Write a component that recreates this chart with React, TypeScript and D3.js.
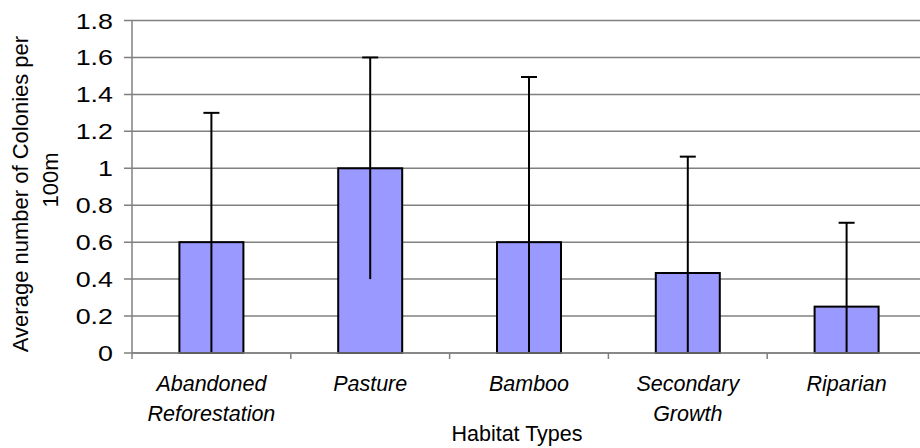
import React from "react";
import * as d3 from "d3";

const categories: string[][] = [
  ["Abandoned", "Reforestation"],
  ["Pasture"],
  ["Bamboo"],
  ["Secondary", "Growth"],
  ["Riparian"],
];
const means = [0.6, 1.0, 0.6, 0.433, 0.251];
const errUpper = [1.3, 1.6, 1.494, 1.063, 0.705];
const errLower = [0, 0.4, 0, 0, 0];
const yTicks = [0, 0.2, 0.4, 0.6, 0.8, 1, 1.2, 1.4, 1.6, 1.8];
const yTitle = ["Average number of Colonies per", "100m"];
const xTitle = "Habitat Types";

const W = 920;
const H = 448;
const left = 132;
const right = 926;
const top = 20.5;
const bottom = 353;

export default function App() {
  const keys = categories.map((c) => c.join(" "));
  const x = d3.scaleBand<string>().domain(keys).range([left, right]).paddingInner(0).paddingOuter(0);
  const y = d3.scaleLinear().domain([0, 1.8]).range([bottom, top]);
  const bw = 64;
  const font = "'Liberation Sans', Arial, sans-serif";
  const boundaries = d3.range(keys.length + 1).map((i) => left + i * x.bandwidth());

  return (
    <svg width={W} height={H} style={{ position: "absolute", left: 0, top: 0, background: "#fff" }}>
      {/* gridlines */}
      {yTicks.map((t) => (
        <line key={"g" + t} x1={left - 8} x2={right} y1={y(t)} y2={y(t)} stroke="#808080" strokeWidth={1.5} />
      ))}
      {/* y axis */}
      <line x1={left} x2={left} y1={top} y2={bottom} stroke="#808080" strokeWidth={1.5} />
      {/* x ticks */}
      {boundaries.map((b, i) => (
        <line key={"xt" + i} x1={b} x2={b} y1={bottom} y2={bottom + 6} stroke="#808080" strokeWidth={1.5} />
      ))}
      {/* y tick labels */}
      {yTicks.map((t) => (
        <text
          key={"yl" + t}
          transform={`translate(113,${y(t) + 8}) scale(1.22,1)`}
          textAnchor="end"
          fontFamily={font}
          fontSize={22}
          fill="#000"
        >
          {d3.format("~g")(t)}
        </text>
      ))}
      {/* bars */}
      {keys.map((k, i) => {
        const cx = x(k)! + x.bandwidth() / 2;
        return (
          <g key={"b" + k}>
            <rect x={cx - bw / 2} y={y(means[i])} width={bw} height={bottom - y(means[i])} fill="#9999FF" stroke="#000" strokeWidth={2} />
            <line x1={cx} x2={cx} y1={y(errLower[i])} y2={y(errUpper[i])} stroke="#000" strokeWidth={2} />
            <line x1={cx - 8} x2={cx + 8} y1={y(errUpper[i])} y2={y(errUpper[i])} stroke="#000" strokeWidth={2} />
          </g>
        );
      })}
      {/* x axis line */}
      <line x1={left} x2={right} y1={bottom} y2={bottom} stroke="#808080" strokeWidth={1.5} />
      {/* x labels */}
      {keys.map((k, i) => {
        const cx = x(k)! + x.bandwidth() / 2;
        return categories[i].map((line, j) => (
          <text key={k + j} x={cx} y={391 + j * 30} textAnchor="middle" fontFamily={font} fontStyle="italic" fontSize={21.5} fill="#000">
            {line}
          </text>
        ));
      })}
      <text x={517} y={441} textAnchor="middle" fontFamily={font} fontSize={21.5} fill="#000">
        {xTitle}
      </text>
      {/* y title */}
      <text transform={`translate(28,194) rotate(-90)`} textAnchor="middle" fontFamily={font} fontSize={22} fill="#000">
        {yTitle[0]}
      </text>
      <text transform={`translate(58,180) rotate(-90)`} textAnchor="middle" fontFamily={font} fontSize={22} fill="#000">
        {yTitle[1]}
      </text>
    </svg>
  );
}
